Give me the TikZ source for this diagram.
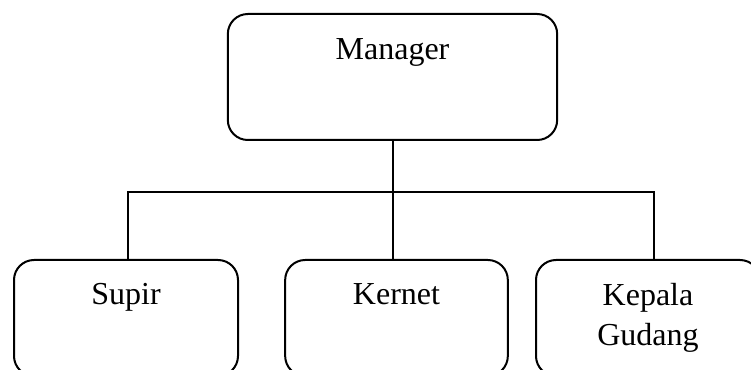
\documentclass[tikz,border=0pt]{standalone}
\usepackage{fontspec}
\setmainfont{Liberation Serif}
\usetikzlibrary{calc}

\tikzset{
  orgbox/.style={draw, line width=1.5pt, rounded corners=15pt, inner sep=0pt},
  orgline/.style={line width=1.5pt},
  orgtext/.style={inner sep=0pt, font=\fontsize{24}{30}\selectfont},
}

\begin{document}
\begin{tikzpicture}[x=0.75pt,y=0.75pt,yscale=-1,xscale=1]
\useasboundingbox (0,0) rectangle (751,370);

%Shape: Rounded Rect [manager]
\node [orgbox, minimum width=247pt, minimum height=94.5pt] (manager) at (392.5,77) {};
%Shape: Rounded Rect [staff]
\node [orgbox, minimum width=168pt, minimum height=87pt] (supir) at (126,318) {};
\node [orgbox, minimum width=167pt, minimum height=87pt] (kernet) at (396.5,318) {};
\node [orgbox, minimum width=168pt, minimum height=87pt] (kepala) at (648,318) {};

%Straight Lines
\draw [orgline] (manager.south) -- (manager.south |- kernet.north);
\draw [orgline] ([xshift=1.5pt]supir.north) -- ++(0,-67) coordinate (busleft)
  -- (busleft -| kepala.north) -- ([xshift=4.5pt]busleft -| kepala.north) -- ([xshift=4.5pt]kepala.north);

% Text Node
\node [orgtext, anchor=base] (managertext) at ($(manager.north)+(0,47)$) {Manager};
% Text Node
\node [orgtext, anchor=base] (supirtext) at ($(supir.north)+(0,46)$) {Supir};
% Text Node
\node [orgtext, anchor=base] (kernettext) at ($(kernet.north)+(0,46)$) {Kernet};
% Text Node
\node [orgtext, anchor=north, align=center] (kepalatext) at ($(kepala.north)+(0,24)$) {Kepala\\Gudang};
\end{tikzpicture}
\end{document}
